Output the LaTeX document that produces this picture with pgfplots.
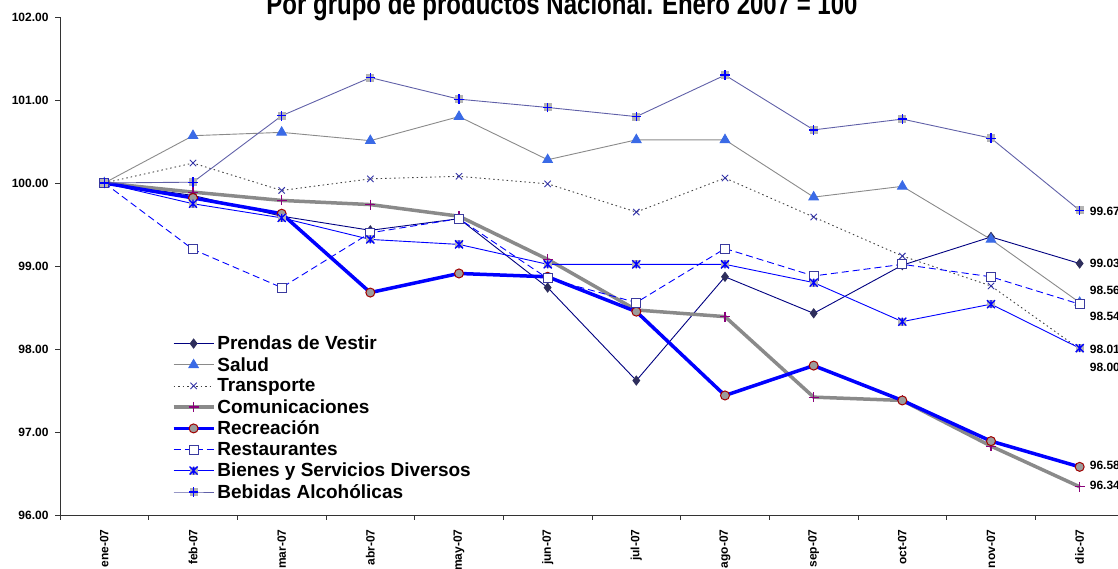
\documentclass[border=0pt]{standalone}
\usepackage{pgfplots}
\pgfplotsset{compat=1.18}
\usepackage{fontspec}
\setmainfont{Liberation Sans}
\newfontfamily\narrowfont[FakeStretch=0.80]{Liberation Sans}
\definecolor{navyline}{HTML}{000080}
\definecolor{diamfill}{HTML}{2E2E5C}
\definecolor{saludtri}{HTML}{3A6AE6}
\definecolor{grayline}{HTML}{8A8A8A}
\definecolor{transx}{HTML}{3535A8}
\definecolor{compurple}{HTML}{8A007A}
\definecolor{recfill}{HTML}{9C9C9C}
\definecolor{recedge}{HTML}{A00000}
\definecolor{restsq}{HTML}{3A3A9E}
\definecolor{markgray}{HTML}{B4B4B4}
\definecolor{bebline}{HTML}{6060A8}
\definecolor{markblue}{HTML}{0000FF}
\pgfdeclareplotmark{sqplus}{%
  \pgfscope\pgfsetcolor{markgray}%
  \pgfpathrectangle{\pgfqpoint{-\pgfplotmarksize}{-\pgfplotmarksize}}{\pgfqpoint{2\pgfplotmarksize}{2\pgfplotmarksize}}%
  \pgfusepath{fill}\endpgfscope
  \pgfscope\pgfsetcolor{markblue}\pgfsetlinewidth{1.3pt}%
  \pgfpathmoveto{\pgfqpoint{-1.2\pgfplotmarksize}{0pt}}\pgfpathlineto{\pgfqpoint{1.2\pgfplotmarksize}{0pt}}%
  \pgfpathmoveto{\pgfqpoint{0pt}{-1.2\pgfplotmarksize}}\pgfpathlineto{\pgfqpoint{0pt}{1.2\pgfplotmarksize}}%
  \pgfusepath{stroke}\endpgfscope}
\pgfdeclareplotmark{sqast}{%
  \pgfscope\pgfsetcolor{markgray}%
  \pgfpathrectangle{\pgfqpoint{-\pgfplotmarksize}{-\pgfplotmarksize}}{\pgfqpoint{2\pgfplotmarksize}{2\pgfplotmarksize}}%
  \pgfusepath{fill}\endpgfscope
  \pgfscope\pgfsetcolor{markblue}\pgfsetlinewidth{1.3pt}%
  \pgfpathmoveto{\pgfqpoint{0pt}{-\pgfplotmarksize}}\pgfpathlineto{\pgfqpoint{0pt}{\pgfplotmarksize}}%
  \pgfpathmoveto{\pgfqpoint{-\pgfplotmarksize}{-\pgfplotmarksize}}\pgfpathlineto{\pgfqpoint{\pgfplotmarksize}{\pgfplotmarksize}}%
  \pgfpathmoveto{\pgfqpoint{-\pgfplotmarksize}{\pgfplotmarksize}}\pgfpathlineto{\pgfqpoint{\pgfplotmarksize}{-\pgfplotmarksize}}%
  \pgfusepath{stroke}\endpgfscope}
\begin{document}
\begin{tikzpicture}
\begin{axis}[
  at={(60pt,54pt)}, anchor=south west,
  scale only axis, width=1064pt, height=498pt,
  xmin=-0.5, xmax=11.5, ymin=96, ymax=102,
  clip=false,
  axis x line=bottom, axis y line=left,
  axis line style={-, draw=black!80, line width=0.8pt},
  tick align=outside,
  xtick={0,...,11},
  xticklabels={ene-07,feb-07,mar-07,abr-07,may-07,jun-07,jul-07,ago-07,sep-07,oct-07,nov-07,dic-07},
  major x tick style={draw=none},
  minor xtick={-0.5,0.5,...,10.5},
  minor tick length=5pt,
  minor x tick style={draw=black!80, line width=0.8pt},
  xticklabel style={rotate=90, anchor=east, font=\fontsize{12}{14}\selectfont\bfseries, yshift=0pt, xshift=-6pt},
  ytick={96,97,...,102},
  major tick length=5pt,
  major y tick style={draw=black!80, line width=0.8pt},
  yticklabel style={font=\fontsize{12}{14}\selectfont\bfseries, xshift=-3pt},
  /pgf/number format/assume math mode=true,
  /pgf/number format/.cd, fixed, fixed zerofill, precision=2, /tikz/.cd,
  legend cell align=left,
  legend style={at={(axis description cs:0.104,0.366)}, anchor=north west, draw=none, fill=none,
    font=\fontsize{19}{21}\selectfont\bfseries, row sep=2.1pt, inner sep=1pt},
  legend image code/.code={\draw[mark repeat=2,mark phase=2,#1] plot coordinates {(0pt,0pt)(20pt,0pt)(40pt,0pt)};},
]
% Prendas de Vestir
\addplot[navyline, line width=0.9pt, mark=diamond*, mark size=4.5pt, mark options={fill=diamfill, draw=diamfill, solid}]
coordinates {(0,100)(1,99.85)(2,99.60)(3,99.43)(4,99.57)(5,98.74)(6,97.62)(7,98.87)(8,98.43)(9,99.01)(10,99.35)(11,99.03)};
\addlegendentry{Prendas de Vestir}
% Salud
\addplot[grayline, line width=0.9pt, mark=triangle*, mark size=5.5pt, mark options={fill=saludtri, draw=saludtri, solid}]
coordinates {(0,100)(1,100.57)(2,100.61)(3,100.51)(4,100.80)(5,100.28)(6,100.52)(7,100.52)(8,99.83)(9,99.96)(10,99.32)(11,98.56)};
\addlegendentry{Salud}
% Transporte
\addplot[black!75, line width=0.9pt, dash pattern=on 1.5pt off 3pt, mark=x, mark size=4.5pt, mark options={draw=transx, solid, line width=0.9pt}]
coordinates {(0,100)(1,100.24)(2,99.91)(3,100.05)(4,100.08)(5,99.99)(6,99.65)(7,100.06)(8,99.59)(9,99.12)(10,98.76)(11,98.00)};
\addlegendentry{Transporte}
% Comunicaciones
\addplot[grayline, line width=3.5pt, mark=+, mark size=5pt, mark options={draw=compurple, solid, line width=1.1pt}]
coordinates {(0,100)(1,99.89)(2,99.79)(3,99.74)(4,99.60)(5,99.08)(6,98.47)(7,98.39)(8,97.42)(9,97.38)(10,96.83)(11,96.34)};
\addlegendentry{Comunicaciones}
% Recreacion
\addplot[blue, line width=3.5pt, mark=*, mark size=4.5pt, mark options={fill=recfill, draw=recedge, solid, line width=1pt}]
coordinates {(0,100)(1,99.82)(2,99.63)(3,98.68)(4,98.91)(5,98.87)(6,98.45)(7,97.44)(8,97.80)(9,97.38)(10,96.89)(11,96.58)};
\addlegendentry{Recreación}
% Restaurantes
\addplot[blue, line width=0.9pt, dash pattern=on 7pt off 4pt, mark=square*, mark size=4.5pt, mark options={fill=white, draw=restsq, solid, line width=0.9pt}]
coordinates {(0,100)(1,99.20)(2,98.74)(3,99.40)(4,99.57)(5,98.85)(6,98.56)(7,99.21)(8,98.88)(9,99.02)(10,98.87)(11,98.54)};
\addlegendentry{Restaurantes}
% Bienes y Servicios Diversos
\addplot[blue, line width=0.9pt, mark=sqast, mark size=4pt, mark options={solid}]
coordinates {(0,100)(1,99.75)(2,99.58)(3,99.32)(4,99.26)(5,99.02)(6,99.02)(7,99.02)(8,98.80)(9,98.33)(10,98.54)(11,98.01)};
\addlegendentry{Bienes y Servicios Diversos}
% Bebidas Alcoholicas
\addplot[bebline, line width=0.9pt, mark=sqplus, mark size=4pt, mark options={solid}]
coordinates {(0,100)(1,100.01)(2,100.81)(3,101.27)(4,101.01)(5,100.91)(6,100.80)(7,101.30)(8,100.64)(9,100.77)(10,100.54)(11,99.67)};
\addlegendentry{Bebidas Alcohólicas}
% end-point labels
\begin{scope}[every node/.style={anchor=west, inner sep=1pt, xshift=9pt, font=\fontsize{12}{14}\selectfont\bfseries}]
\node at (axis cs:11,99.658) {99.67};
\node at (axis cs:11,99.036) {99.03};
\node at (axis cs:11,98.706) {98.56};
\node at (axis cs:11,98.393) {98.54};
\node at (axis cs:11,98.000) {98.01};
\node at (axis cs:11,97.778) {98.00};
\node at (axis cs:11,96.594) {96.58};
\node at (axis cs:11,96.352) {96.34};
\end{scope}
\end{axis}
\node[anchor=base, font=\narrowfont\fontsize{30}{34}\selectfont\bfseries] at (562pt,554pt) {Por grupo de productos Nacional. Enero 2007 = 100};
\pgfresetboundingbox
\useasboundingbox (0,0) rectangle (1118pt,569pt);
\end{tikzpicture}
\end{document}
